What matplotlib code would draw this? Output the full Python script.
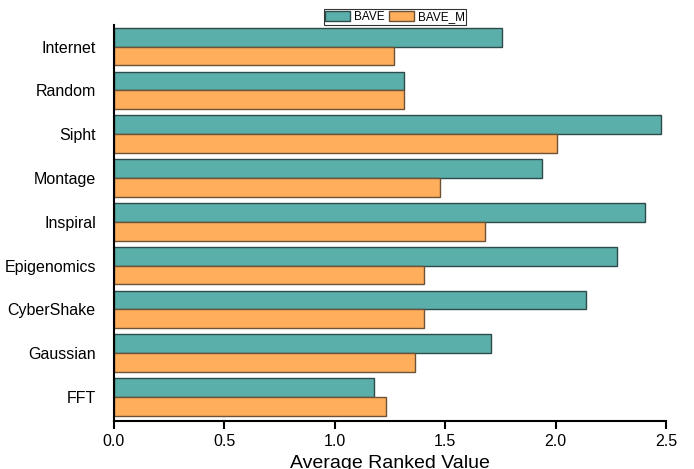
import matplotlib
matplotlib.use("Agg")
import matplotlib.pyplot as plt
import numpy as np

plt.rcParams['font.family'] = ['Liberation Sans', 'DejaVu Sans']

categories = ["FFT", "Gaussian", "CyberShake", "Epigenomics", "Inspiral",
              "Montage", "Sipht", "Random", "Internet"]
bave = [1.176, 1.708, 2.138, 2.277, 2.405, 1.937, 2.478, 1.314, 1.756]
bave_m = [1.234, 1.365, 1.405, 1.405, 1.679, 1.475, 2.007, 1.314, 1.266]
series_names = ["BAVE", "BAVE_M"]
xticks = [0.0, 0.5, 1.0, 1.5, 2.0, 2.5]

fig = plt.figure(figsize=(6.94, 4.69), dpi=100)
ax = fig.add_axes([0.164, 0.1023, 0.796, 0.845])

y = np.arange(len(categories))
h = 0.43
ax.barh(y + h / 2, bave, height=h, color='#5BAFAB', edgecolor='#2E4A4A',
        linewidth=1.0, label=series_names[0])
ax.barh(y - h / 2, bave_m, height=h, color='#FFAE5C', edgecolor='#6E5236',
        linewidth=1.0, label=series_names[1])

ax.set_xlim(0, 2.5)
ax.set_ylim(-0.55, 8.5)
ax.set_xticks(xticks)
ax.set_xticklabels([f"{t:.1f}" for t in xticks], fontsize=11.5)
ax.set_yticks(y)
ax.set_yticklabels(categories, fontsize=11.5)
ax.set_xlabel("Average Ranked Value", fontsize=14, labelpad=5)

for s in ['top', 'right']:
    ax.spines[s].set_visible(False)
for s in ['left', 'bottom']:
    ax.spines[s].set_linewidth(1.5)
ax.tick_params(axis='x', direction='out', length=6, width=1.5, pad=3)
ax.tick_params(axis='y', direction='in', length=0, pad=13)

leg = ax.legend(loc='lower center', bbox_to_anchor=(0.509, 1.0), ncol=2,
                fontsize=8.5, frameon=True, fancybox=False, edgecolor='black',
                handlelength=2.1, handleheight=1.0, handletextpad=0.3,
                columnspacing=0.4, borderpad=0.15, borderaxespad=0.0)
leg.get_frame().set_linewidth(0.8)

fig.savefig("out.png", dpi=100)
